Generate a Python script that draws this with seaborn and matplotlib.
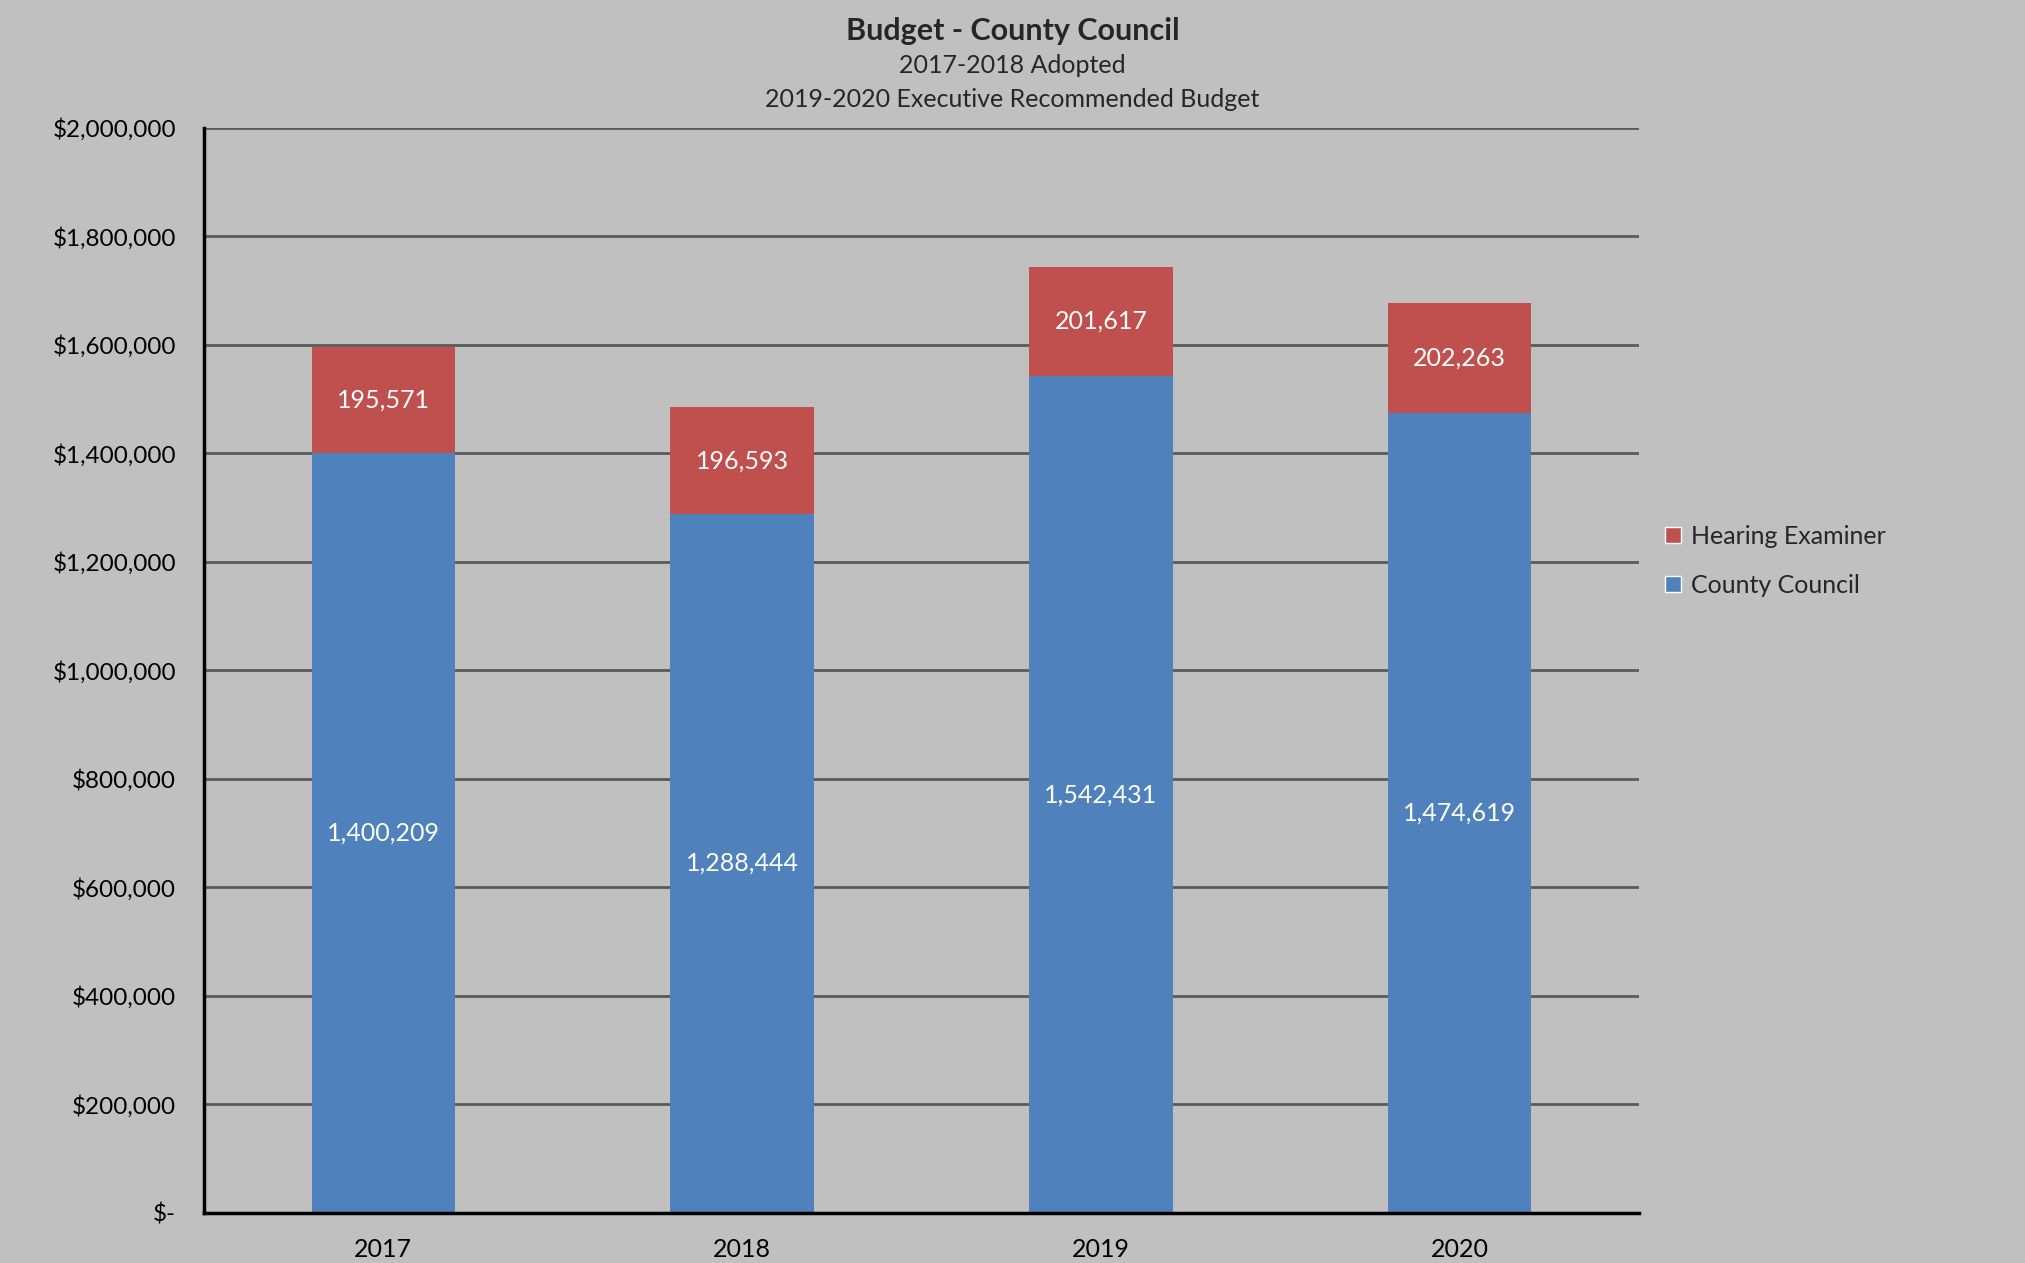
import numpy as np
import pandas as pd
import seaborn as sns
import matplotlib.pyplot as plt
from matplotlib.patches import Patch
from matplotlib.ticker import FuncFormatter

years = ["2017", "2018", "2019", "2020"]
county_council = [1400209, 1288444, 1542431, 1474619]
hearing_examiner = [195571, 196593, 201617, 202263]

blue = "#4F81BD"
red = "#C0504D"
bg = "#C0C0C0"

sns.set_theme(style="white")
plt.rcParams['font.family'] = ['Lato', 'DejaVu Sans']

df = pd.DataFrame({"year": years, "council": county_council, "hearing": hearing_examiner})

fig = plt.figure(figsize=(20.25, 12.63), dpi=100, facecolor=bg)
ax = fig.add_axes([0.1007, 0.0396, 0.7087, 0.8591])
ax.set_facecolor(bg)

sns.barplot(data=df, x="year", y="council", color=blue, width=0.4, saturation=1, ax=ax,
            linewidth=0, zorder=3)
sns.barplot(data=df, x="year", y="hearing", color=red, width=0.4, saturation=1, ax=ax,
            bottom=df["council"].values, linewidth=0, zorder=3)

for cont in ax.containers:
    ax.bar_label(cont, labels=[f"{v:,.0f}" for v in cont.datavalues], label_type="center",
                 color="white", fontsize=18)

ax.set_ylim(0, 2000000)
ax.set_yticks(np.arange(0, 2000001, 200000))
ax.yaxis.set_major_formatter(FuncFormatter(lambda v, p: "$-" if v == 0 else f"${v:,.0f}"))
ax.yaxis.grid(True, color="#5A5A5A", linewidth=2, zorder=0)
ax.set_axisbelow(True)
ax.tick_params(axis="y", labelsize=17.5, length=0, pad=20, colors="black")
ax.tick_params(axis="x", labelsize=18, length=0, pad=18, colors="black")
ax.set_xlabel("")
ax.set_ylabel("")
for s in ["top", "right"]:
    ax.spines[s].set_visible(False)
for s in ["left", "bottom"]:
    ax.spines[s].set_color("black")
    ax.spines[s].set_linewidth(2.5)
    ax.spines[s].set_zorder(4)

fig.text(0.5, 0.9755, "Budget - County Council", ha="center", va="center", fontsize=22, fontweight="bold")
fig.text(0.5, 0.9478, "2017-2018 Adopted", ha="center", va="center", fontsize=18)
fig.text(0.5, 0.9212, "2019-2020 Executive Recommended Budget", ha="center", va="center", fontsize=18)

handles = [Patch(facecolor=red, label="Hearing Examiner"), Patch(facecolor=blue, label="County Council")]
fig.legend(handles=handles, loc="center left", bbox_to_anchor=(0.811, 0.556), frameon=False,
           fontsize=18, handlelength=0.65, handleheight=0.65, handletextpad=0.4, labelspacing=1.05)

fig.savefig("out.png", dpi=100, facecolor=bg)
